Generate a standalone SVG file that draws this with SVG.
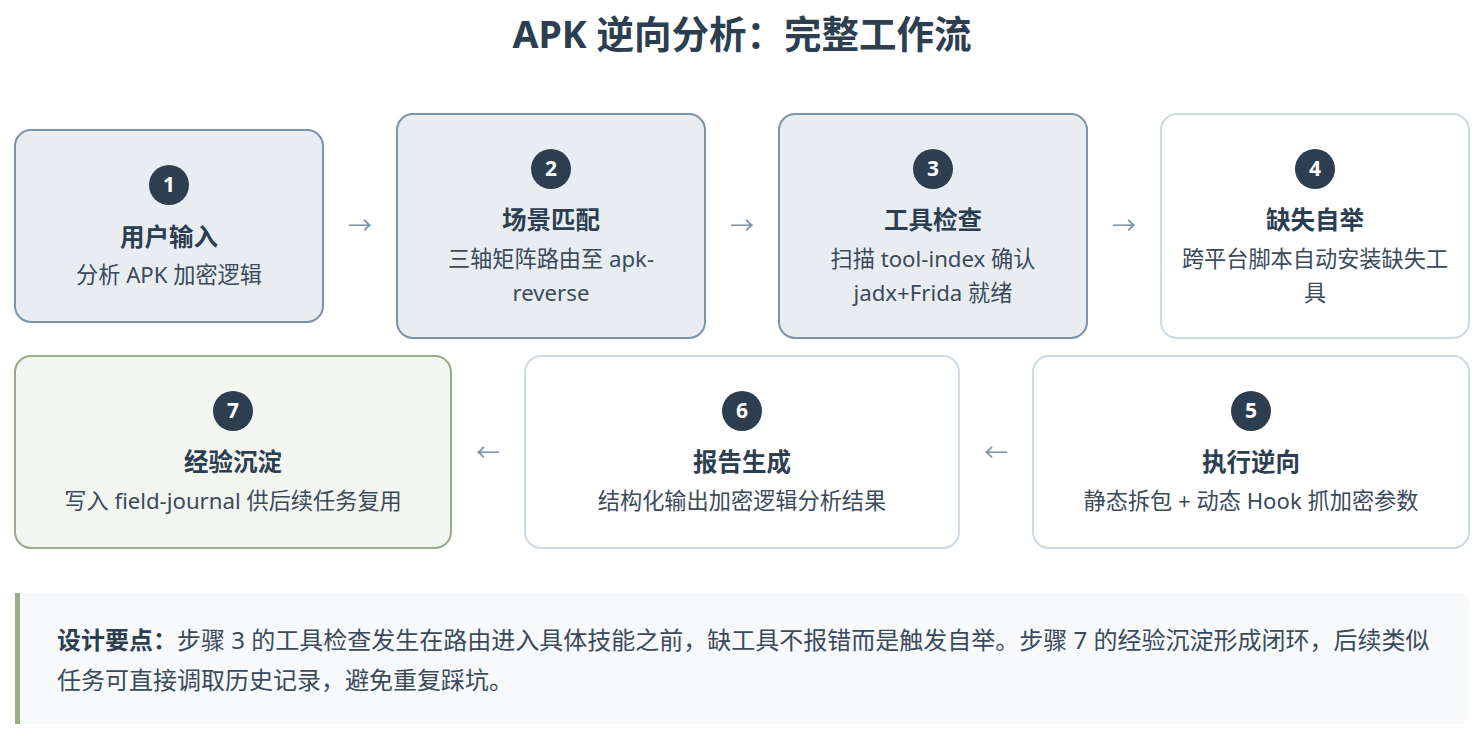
<svg xmlns="http://www.w3.org/2000/svg" width="1484" height="736" viewBox="0 0 1484 736">
<style>
text{font-family:"Noto Sans","Noto Sans CJK SC",sans-serif;}
.title{font-size:37.5px;font-weight:700;fill:#2c3e50;text-anchor:middle;}
.box-a{fill:#e8edf2;stroke:#7c93a8;stroke-width:2;}
.box-b{fill:#ffffff;stroke:#cdd9e3;stroke-width:2;}
.box-c{fill:#f3f6f0;stroke:#9aab88;stroke-width:2;}
.num-bg{fill:#2c3e50;}
.num{font-size:21px;font-weight:700;fill:#ffffff;text-anchor:middle;}
.h{font-size:24.5px;font-weight:700;fill:#2c3e50;text-anchor:middle;}
.d{font-size:22.2px;fill:#3a4a5a;text-anchor:middle;}
.arrow{font-size:24px;fill:#7c93a8;text-anchor:middle;}
.note{font-size:24px;fill:#3a4a5a;}
.note-b{font-weight:700;fill:#2c3e50;}
</style>
<rect width="1484" height="736" fill="#ffffff"/>
<text class="title" x="742" y="48">APK 逆向分析：完整工作流</text>

<g id="node1">
<rect class="box-a" x="15" y="130" width="308" height="192" rx="16"/>
<circle class="num-bg" cx="169" cy="185" r="20"/>
<text class="num" x="169" y="192">1</text>
<text class="h" x="169" y="246">用户输入</text>
<text class="d" x="169" y="283">分析 APK 加密逻辑</text>
</g>
<g id="node2">
<rect class="box-a" x="397" y="114" width="308" height="224" rx="16"/>
<circle class="num-bg" cx="551" cy="169" r="20"/>
<text class="num" x="551" y="176">2</text>
<text class="h" x="551" y="229">场景匹配</text>
<text class="d" x="551" y="267">三轴矩阵路由至 apk-</text>
<text class="d" x="551" y="301">reverse</text>
</g>
<g id="node3">
<rect class="box-a" x="779" y="114" width="308" height="224" rx="16"/>
<circle class="num-bg" cx="933" cy="169" r="20"/>
<text class="num" x="933" y="176">3</text>
<text class="h" x="933" y="229">工具检查</text>
<text class="d" x="933" y="267">扫描 tool-index 确认</text>
<text class="d" x="933" y="301">jadx+Frida 就绪</text>
</g>
<g id="node4">
<rect class="box-b" x="1161" y="114" width="308" height="224" rx="16"/>
<circle class="num-bg" cx="1315" cy="169" r="20"/>
<text class="num" x="1315" y="176">4</text>
<text class="h" x="1315" y="229">缺失自举</text>
<text class="d" x="1315" y="267">跨平台脚本自动安装缺失工</text>
<text class="d" x="1315" y="301">具</text>
</g>
<g id="node5">
<rect class="box-b" x="1033" y="356" width="436" height="192" rx="16"/>
<circle class="num-bg" cx="1251" cy="411" r="20"/>
<text class="num" x="1251" y="418">5</text>
<text class="h" x="1251" y="471">执行逆向</text>
<text class="d" x="1251" y="509">静态拆包 + 动态 Hook 抓加密参数</text>
</g>
<g id="node6">
<rect class="box-b" x="525" y="356" width="434" height="192" rx="16"/>
<circle class="num-bg" cx="742" cy="411" r="20"/>
<text class="num" x="742" y="418">6</text>
<text class="h" x="742" y="471">报告生成</text>
<text class="d" x="742" y="509">结构化输出加密逻辑分析结果</text>
</g>
<g id="node7">
<rect class="box-c" x="15" y="356" width="436" height="192" rx="16"/>
<circle class="num-bg" cx="233" cy="411" r="20"/>
<text class="num" x="233" y="418">7</text>
<text class="h" x="233" y="471">经验沉淀</text>
<text class="d" x="233" y="509">写入 field-journal 供后续任务复用</text>
</g>

<g id="connectors">
<text class="arrow" x="360" y="234">→</text>
<text class="arrow" x="742" y="234">→</text>
<text class="arrow" x="1124" y="234">→</text>
<text class="arrow" x="996" y="461">←</text>
<text class="arrow" x="488" y="461">←</text>
</g>

<g id="note">
<rect x="15" y="593" width="1454" height="131" rx="10" fill="#f7f9fa"/>
<rect x="15" y="593" width="5" height="131" fill="#9aab88"/>
<text class="note" x="57" y="649"><tspan class="note-b">设计要点：</tspan>步骤 3 的工具检查发生在路由进入具体技能之前，缺工具不报错而是触发自举。步骤 7 的经验沉淀形成闭环，后续类似</text>
<text class="note" x="57" y="689">任务可直接调取历史记录，避免重复踩坑。</text>
</g>
</svg>
